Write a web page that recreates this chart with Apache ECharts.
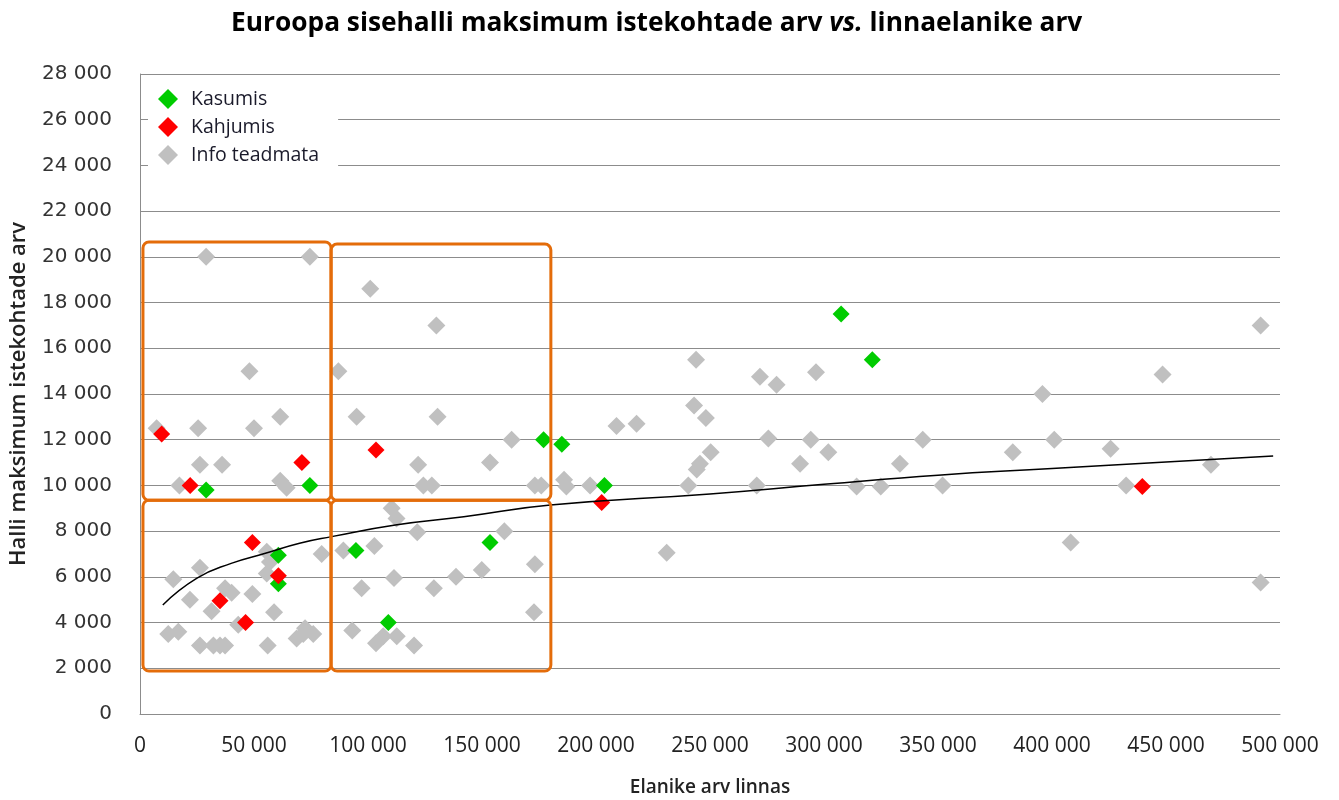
<!DOCTYPE html>
<html>
<head>
<meta charset="utf-8">
<script src="https://cdn.jsdelivr.net/npm/echarts@6/dist/echarts.min.js"></script>
<style>
    html, body { margin: 0; padding: 0; background: #fff; }
    #chart { width: 1339px; height: 800px; }
</style>
</head>
<body>
<div id="chart"></div>
<script>
    // punktid: [elanike arv, istekohtade arv]
    const kasumis = [
        [177000, 12000], [185000, 11800], [29000, 9800], [74500, 10000], [60700, 6950],
        [60700, 5700], [94700, 7150], [153500, 7500], [108900, 4000], [307500, 17500],
        [321200, 15500], [203700, 10000]
    ];
    const kahjumis = [
        [9500, 12250], [103500, 11550], [71000, 11000], [22000, 10000], [49300, 7500],
        [60700, 6050], [35100, 4950], [46300, 4000], [202500, 9250], [439600, 9950]
    ];
    const infoTeadmata = [
        [29000, 20000], [74500, 20000], [101000, 18600], [130000, 17000], [48000, 15000],
        [87000, 15000], [95000, 13000], [130500, 13000], [61500, 13000], [7300, 12500],
        [25500, 12500], [50000, 12500], [163000, 12000], [26300, 10900], [36000, 10900],
        [122000, 10900], [153500, 11000], [17300, 10000], [61500, 10200], [64300, 9900],
        [124300, 10000], [128000, 10000], [173200, 10000], [176000, 10000], [186000, 10250],
        [187000, 9950], [110400, 9000], [112500, 8550],
        [55600, 7100], [57000, 6650], [55600, 6150], [79700, 7000], [26300, 6400],
        [14600, 5900], [37300, 5500], [40200, 5300], [21900, 5000], [31400, 4500],
        [49300, 5250], [58800, 4450], [43100, 3900], [12400, 3500], [16800, 3600],
        [26300, 3000], [32200, 3000], [35100, 3000], [37300, 3000], [56000, 3000],
        [68700, 3300], [72400, 3750], [76000, 3500], [71600, 3500],
        [89200, 7150], [102800, 7350], [121600, 7950], [159800, 8000], [173200, 6550],
        [97200, 5500], [111400, 5950], [128900, 5500], [138600, 6000], [149900, 6300],
        [172800, 4450], [93100, 3650], [103500, 3100], [106700, 3400], [112600, 3400],
        [120200, 3000],
        [243900, 15500], [271900, 14750], [279200, 14400], [296500, 14950], [243000, 13500],
        [248200, 12950], [209000, 12600], [217800, 12700], [275600, 12050], [294200, 12000],
        [301900, 11450], [250300, 11450], [343300, 12000], [289500, 10950], [333300, 10950],
        [245600, 10950], [244200, 10700], [240500, 10000], [270500, 10000], [314300, 9950],
        [324900, 9950], [352000, 10000], [197400, 10000], [231000, 7050],
        [491500, 17000], [448500, 14850], [395800, 14000], [401000, 12000], [382800, 11450],
        [425700, 11600], [469700, 10900], [432500, 10000], [408200, 7500], [491500, 5750]
    ];
    // trendijoon, loetud pildilt
    const trend = [
        [10000, 4770], [25000, 5940], [40000, 6590], [55000, 7030], [70000, 7470],
        [84000, 7760], [112000, 8270], [142000, 8630], [180000, 9140], [250000, 9630],
        [300000, 10050], [350000, 10450], [400000, 10740], [450000, 11030], [497000, 11290]
    ];
    // oranžid kastid: [x0, y0, x1, y1]
    const kastid = [
        [1300, 9350, 83800, 20650],
        [83800, 9350, 180200, 20560],
        [1300, 1880, 83800, 9350],
        [83800, 1880, 180200, 9350]
    ];

    function fmt(v) {
        return String(v).replace(/\B(?=(\d{3})+(?!\d))/g, ' ');
    }

    const chart = echarts.init(document.getElementById('chart'));
    const option = {
        animation: false,
        backgroundColor: '#fff',
        title: {
            text: '{b|Euroopa sisehalli maksimum istekohtade arv }{i|vs.}{b| linnaelanike arv}',
            left: 226,
            top: 6,
            textStyle: {
                rich: {
                    b: { fontFamily: 'Open Sans', fontWeight: 'bold', fontSize: 26.3, color: '#000' },
                    i: { fontFamily: 'Open Sans', fontWeight: 'bold', fontStyle: 'italic', fontSize: 26.3, color: '#000' }
                }
            }
        },
        legend: {
            data: ['Kasumis', 'Kahjumis', 'Info teadmata'],
            orient: 'vertical',
            left: 148,
            top: 80,
            padding: [9, 19, 4, 10],
            backgroundColor: '#fff',
            itemWidth: 20,
            itemHeight: 20,
            itemGap: 8,
            textStyle: {
                fontFamily: 'Open Sans',
                fontSize: 19.5,
                color: '#1a1a2a',
                padding: [0, 0, 0, 8]
            }
        },
        grid: {
            left: 140,
            right: 59,
            top: 74,
            bottom: 86,
            outerBoundsMode: 'none'
        },
        xAxis: {
            type: 'value',
            min: 0,
            max: 500000,
            interval: 50000,
            name: 'Elanike arv linnas',
            nameLocation: 'middle',
            nameGap: 64,
            nameTextStyle: { fontFamily: 'Open Sans', fontWeight: 600, fontSize: 19, color: '#222' },
            axisLine: { show: true, lineStyle: { color: '#8c8c8c', width: 1 } },
            axisTick: { show: false },
            splitLine: { show: false },
            axisLabel: {
                formatter: fmt,
                margin: 22,
                fontFamily: 'Open Sans',
                fontSize: 21,
                color: '#222'
            }
        },
        yAxis: {
            type: 'value',
            min: 0,
            max: 28000,
            interval: 2000,
            name: 'Halli maksimum istekohtade arv',
            nameLocation: 'middle',
            nameGap: 110,
            nameTextStyle: { fontFamily: 'Open Sans', fontWeight: 600, fontSize: 22, color: '#222' },
            axisLine: { show: true, lineStyle: { color: '#8c8c8c', width: 1 } },
            axisTick: { show: false },
            splitLine: { show: true, lineStyle: { color: '#8c8c8c', width: 1 } },
            axisLabel: {
                formatter: fmt,
                margin: 28,
                fontFamily: 'DejaVu Sans',
                fontSize: 20,
                color: '#333'
            }
        },
        series: [
            {
                name: 'Info teadmata',
                type: 'scatter',
                symbol: 'diamond',
                symbolSize: 18,
                itemStyle: { color: '#c0c0c0', opacity: 1 },
                data: infoTeadmata,
                z: 2
            },
            {
                name: 'Kasumis',
                type: 'scatter',
                symbol: 'diamond',
                symbolSize: 17,
                itemStyle: { color: '#00cc00', opacity: 1 },
                data: kasumis,
                z: 3
            },
            {
                name: 'Kahjumis',
                type: 'scatter',
                symbol: 'diamond',
                symbolSize: 17,
                itemStyle: { color: '#ff0000', opacity: 1 },
                data: kahjumis,
                z: 4
            },
            {
                name: 'trend',
                type: 'line',
                smooth: true,
                showSymbol: false,
                silent: true,
                lineStyle: { color: '#000', width: 1.5 },
                data: trend,
                z: 5
            },
            {
                name: 'kastid',
                type: 'custom',
                silent: true,
                z: 6,
                renderItem: function (params, api) {
                    const p0 = api.coord([api.value(0), api.value(3)]);
                    const p1 = api.coord([api.value(2), api.value(1)]);
                    return {
                        type: 'rect',
                        shape: { x: p0[0], y: p0[1], width: p1[0] - p0[0], height: p1[1] - p0[1], r: 6 },
                        style: { fill: 'none', stroke: '#e46c0a', lineWidth: 3 }
                    };
                },
                data: kastid
            }
        ]
    };
    chart.setOption(option);
</script>
</body>
</html>
